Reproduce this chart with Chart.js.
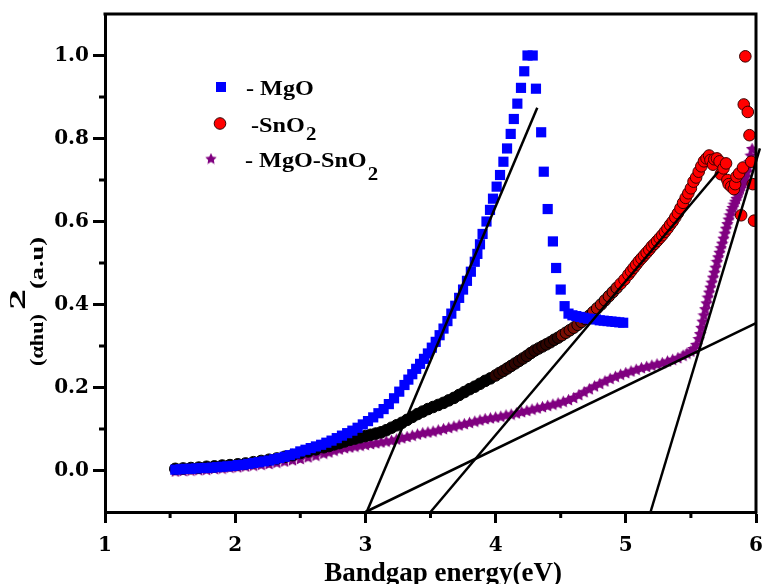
<!DOCTYPE html>
<html>
<head>
<meta charset="utf-8">
<script src="https://cdn.jsdelivr.net/npm/chart.js@4.4.1/dist/chart.umd.min.js"></script>
<style>
  html, body { margin: 0; padding: 0; background: #ffffff; }
  #plot { display: block; }
</style>
</head>
<body>
<canvas id="plot" width="764" height="584"></canvas>
<script>
// ---- MgO: (alpha h nu)^2 against photon energy (eV) ----
const mgoEnergy = [1.54,1.58,1.62,1.66,1.70,1.74,1.78,1.82,1.86,1.90,1.94,1.98,2.02,2.06,2.10,2.14,2.18,2.22,2.26,2.30,
  2.34,2.38,2.42,2.46,2.50,2.54,2.58,2.62,2.66,2.70,2.74,2.78,2.82,2.86,2.90,2.94,2.98,3.02,3.06,3.10,
  3.14,3.18,3.22,3.26,3.30,3.33,3.36,3.39,3.42,3.45,3.48,3.51,3.54,3.57,3.60,3.63,3.66,3.69,3.72,3.75,
  3.78,3.81,3.84,3.86,3.88,3.90,3.93,3.957,3.98,4.008,4.034,4.06,4.088,4.116,4.14,4.167,4.195,4.22,4.245,4.285,
  4.31,4.35,4.37,4.40,4.44,4.465,4.50,4.53,4.56,4.59,4.62,4.65,4.68,4.71,4.74,4.77,4.80,4.83,4.86,4.89,
  4.92,4.95,4.98];
const mgoValue = [0.002,0.003,0.004,0.004,0.005,0.006,0.006,0.007,0.008,0.009,0.010,0.011,0.013,0.014,0.016,0.018,0.020,0.022,0.024,0.027,
  0.030,0.033,0.037,0.041,0.046,0.050,0.054,0.058,0.062,0.067,0.072,0.078,0.084,0.090,0.096,0.103,0.111,0.119,0.128,0.138,
  0.148,0.160,0.174,0.190,0.206,0.219,0.232,0.245,0.257,0.269,0.282,0.296,0.310,0.326,0.342,0.360,0.378,0.397,0.416,0.436,
  0.457,0.479,0.503,0.522,0.545,0.570,0.600,0.628,0.655,0.684,0.712,0.744,0.776,0.811,0.847,0.884,0.922,0.962,1.000,1.000,
  0.920,0.815,0.720,0.630,0.552,0.488,0.436,0.396,0.378,0.374,0.372,0.370,0.368,0.366,0.365,0.364,0.362,0.361,0.360,0.359,
  0.358,0.357,0.356];

// ---- SnO2 ----
const sno2Energy = [1.54,1.60,1.66,1.72,1.78,1.84,1.90,1.96,2.02,2.08,2.14,2.20,2.26,2.32,2.38,2.44,2.50,2.56,2.62,2.68,
  2.72,2.76,2.80,2.84,2.88,2.92,2.96,3.00,3.04,3.08,3.12,3.16,3.20,3.24,3.28,3.32,3.36,3.40,3.44,3.48,
  3.52,3.56,3.60,3.64,3.68,3.72,3.76,3.80,3.84,3.88,3.92,3.96,4.00,4.03,4.06,4.09,4.12,4.15,4.18,4.21,
  4.24,4.27,4.30,4.33,4.36,4.39,4.42,4.45,4.48,4.51,4.54,4.57,4.60,4.63,4.66,4.69,4.72,4.75,4.78,4.81,
  4.84,4.87,4.90,4.93,4.96,4.99,5.02,5.04,5.06,5.08,5.10,5.12,5.14,5.16,5.18,5.20,5.22,5.24,5.26,5.28,
  5.30,5.32,5.34,5.36,5.38,5.40,5.42,5.44,5.46,5.48,5.50,5.52,5.54,5.56,5.58,5.60,5.62,5.64,5.65,5.67,
  5.68,5.70,5.72,5.73,5.75,5.77,5.78,5.79,5.81,5.83,5.84,5.85,5.87,5.886,5.90,5.906,5.918,5.937,5.95,5.963,
  5.975,5.985];
const sno2Value = [0.004,0.005,0.006,0.007,0.009,0.010,0.012,0.013,0.015,0.017,0.020,0.023,0.026,0.029,0.033,0.037,0.042,0.046,0.051,0.056,
  0.059,0.063,0.066,0.070,0.074,0.077,0.080,0.083,0.086,0.089,0.092,0.097,0.103,0.109,0.115,0.122,0.129,0.136,0.142,0.148,
  0.153,0.158,0.163,0.169,0.175,0.182,0.189,0.196,0.202,0.209,0.216,0.222,0.229,0.235,0.240,0.246,0.252,0.258,0.264,0.270,
  0.276,0.283,0.289,0.294,0.299,0.304,0.309,0.315,0.320,0.326,0.332,0.338,0.344,0.351,0.358,0.365,0.373,0.382,0.391,0.400,
  0.410,0.420,0.430,0.440,0.450,0.460,0.472,0.480,0.488,0.496,0.504,0.511,0.518,0.525,0.532,0.540,0.546,0.553,0.560,0.567,
  0.575,0.583,0.592,0.600,0.610,0.620,0.632,0.645,0.657,0.668,0.680,0.696,0.706,0.720,0.733,0.745,0.752,0.759,0.748,0.737,
  0.750,0.752,0.745,0.714,0.728,0.740,0.700,0.690,0.684,0.678,0.690,0.708,0.716,0.615,0.730,0.882,0.998,0.864,0.808,0.744,
  0.690,0.602];

// ---- MgO-SnO2 composite ----
const compEnergy = [1.54,1.60,1.66,1.72,1.78,1.84,1.90,1.96,2.02,2.08,2.14,2.20,2.26,2.32,2.38,2.44,2.50,2.56,2.62,2.68,
  2.72,2.76,2.80,2.84,2.88,2.92,2.96,3.00,3.04,3.08,3.12,3.16,3.20,3.24,3.28,3.32,3.36,3.40,3.44,3.48,
  3.52,3.56,3.60,3.64,3.68,3.72,3.76,3.80,3.84,3.88,3.92,3.96,4.00,4.04,4.08,4.12,4.16,4.20,4.24,4.28,
  4.32,4.36,4.40,4.44,4.48,4.52,4.56,4.60,4.64,4.68,4.72,4.76,4.80,4.84,4.88,4.92,4.96,5.00,5.04,5.08,
  5.12,5.16,5.20,5.24,5.28,5.32,5.36,5.40,5.44,5.47,5.50,5.52,5.54,5.56,5.57,5.58,5.59,5.60,5.61,5.62,
  5.63,5.64,5.65,5.66,5.67,5.68,5.69,5.70,5.71,5.72,5.73,5.74,5.75,5.76,5.77,5.78,5.79,5.80,5.81,5.82,
  5.83,5.84,5.85,5.86,5.87,5.88,5.89,5.90,5.91,5.92,5.93,5.94,5.95,5.96,5.97];
const compValue = [-0.001,0.000,0.001,0.002,0.003,0.005,0.006,0.008,0.009,0.011,0.013,0.015,0.017,0.020,0.023,0.026,0.029,0.033,0.037,0.042,
  0.045,0.049,0.052,0.055,0.057,0.059,0.061,0.063,0.065,0.067,0.069,0.071,0.073,0.076,0.079,0.082,0.085,0.088,0.091,0.093,
  0.095,0.098,0.101,0.104,0.107,0.110,0.113,0.116,0.119,0.122,0.125,0.127,0.129,0.131,0.134,0.136,0.139,0.142,0.145,0.148,
  0.151,0.154,0.157,0.160,0.163,0.167,0.171,0.176,0.183,0.190,0.197,0.204,0.210,0.216,0.222,0.227,0.232,0.236,0.240,0.244,
  0.248,0.251,0.254,0.257,0.260,0.264,0.268,0.272,0.278,0.283,0.288,0.294,0.304,0.318,0.330,0.345,0.360,0.375,0.390,0.404,
  0.418,0.430,0.442,0.454,0.466,0.478,0.490,0.504,0.515,0.526,0.537,0.548,0.560,0.572,0.584,0.595,0.606,0.616,0.626,0.634,
  0.642,0.649,0.656,0.664,0.672,0.680,0.688,0.694,0.700,0.708,0.720,0.733,0.745,0.760,0.776];

// ---- Tauc extrapolation lines (start, end) ----
const fitMgO      = [[3.01, -0.1], [4.32, 0.874]];
const fitBaseline = [[3.00, -0.1], [6.00, 0.355]];
const fitSnO2     = [[3.50, -0.1], [5.71, 0.720]];
const fitComp     = [[5.19, -0.1], [6.03, 0.776]];

// ---- axes ----
const xTicks = [1, 2, 3, 4, 5, 6];
const yTicks = [0.0, 0.2, 0.4, 0.6, 0.8, 1.0];
const xMinorTicks = [1.5, 2.5, 3.5, 4.5, 5.5];
const yMinorTicks = [0.1, 0.3, 0.5, 0.7, 0.9];
const xTitle = 'Bandgap energy(eV)';
const yTitleParts = ['(\u03B1hu)', '2', '(a.u)'];

// ---- legend ----
const legendText = ['- MgO', '-SnO', '- MgO-SnO'];
const legendSub  = ['', '2', '2'];

const toPoints = (xs, ys) => xs.map((x, i) => ({ x: x, y: ys[i] }));
const toLine = pts => pts.map(p => ({ x: p[0], y: p[1] }));

const SERIF = '"Liberation Serif", "Times New Roman", serif';
const PURPLE = '#800080';

// filled five-point star used as a marker
function starMarker(size, color) {
  const c = document.createElement('canvas');
  c.width = size; c.height = size;
  const g = c.getContext('2d');
  const cx = size / 2, cy = size / 2 + size * 0.05, R = size / 2, r = R * 0.5;
  g.beginPath();
  for (let i = 0; i < 10; i++) {
    const a = -Math.PI / 2 + i * Math.PI / 5;
    const rad = (i % 2) ? r : R;
    g.lineTo(cx + rad * Math.cos(a), cy + rad * Math.sin(a));
  }
  g.closePath();
  g.fillStyle = color;
  g.fill();
  return c;
}
const starPoint = starMarker(13, PURPLE);
const starLegend = starMarker(12, PURPLE);

// overlapping circle outlines make the dense part of the SnO2 trace look dark
function sno2Fill(ctx) {
  const x = ctx.raw ? ctx.raw.x : 6;
  if (x < 4.0) return '#000000';
  if (x < 4.5) return '#2e0400';
  if (x < 4.75) return '#7a0e04';
  if (x < 4.95) return '#b81008';
  return '#ff0000';
}
function sno2Edge(ctx) {
  const x = ctx.raw ? ctx.raw.x : 6;
  return x < 4.95 ? '#000000' : '#3a0000';
}

const lineStyle = {
  type: 'line',
  showLine: true,
  borderColor: '#000000',
  borderWidth: 2.5,
  pointRadius: 0,
  fill: false,
  clip: false,
  order: 0
};

// frame, minor ticks, titles and legend
const decorations = {
  id: 'decorations',
  afterDraw(chart) {
    const ctx = chart.ctx;
    const a = chart.chartArea;
    const xs = chart.scales.x, ys = chart.scales.y;
    ctx.save();
    ctx.strokeStyle = '#000';
    ctx.lineWidth = 3;
    ctx.lineCap = 'square';
    ctx.beginPath();
    ctx.moveTo(a.left, a.top);
    ctx.lineTo(a.right, a.top);
    ctx.lineTo(a.right, a.bottom);
    ctx.stroke();

    ctx.lineCap = 'butt';
    ctx.lineWidth = 3;
    ctx.beginPath();
    xMinorTicks.forEach(v => {
      const px = xs.getPixelForValue(v);
      ctx.moveTo(px, a.bottom);
      ctx.lineTo(px, a.bottom + 6);
    });
    yMinorTicks.forEach(v => {
      const py = ys.getPixelForValue(v);
      ctx.moveTo(a.left, py);
      ctx.lineTo(a.left - 6, py);
    });
    ctx.stroke();

    // x title
    ctx.fillStyle = '#000';
    ctx.font = 'bold 27px ' + SERIF;
    ctx.textAlign = 'center';
    ctx.textBaseline = 'alphabetic';
    ctx.fillText(xTitle, 443, 581);

    // y title, read bottom to top
    const along = (text, size, from, to, base) => {
      ctx.save();
      ctx.font = 'bold ' + size + 'px ' + SERIF;
      const w = ctx.measureText(text).width;
      ctx.translate(base, from);
      ctx.rotate(-Math.PI / 2);
      ctx.scale((from - to) / w, 1);
      ctx.textAlign = 'left';
      ctx.textBaseline = 'alphabetic';
      ctx.fillText(text, 0, 0);
      ctx.restore();
    };
    along(yTitleParts[0], 19, 366, 314, 43);
    along(yTitleParts[1], 24, 310, 289, 25);
    along(yTitleParts[2], 19, 289, 237, 43);

    // legend
    const rows = [87, 123.5, 158.5];
    const textX = [246, 251, 245];
    const baseY = [95, 131.5, 166.5];
    const subY = [0, 140, 180];
    ctx.fillStyle = '#0000ff';
    ctx.fillRect(216, rows[0] - 5, 10, 10);
    ctx.beginPath();
    ctx.arc(220, rows[1], 5.8, 0, Math.PI * 2);
    ctx.fillStyle = '#ff0000';
    ctx.fill();
    ctx.lineWidth = 1;
    ctx.strokeStyle = '#300000';
    ctx.stroke();
    ctx.drawImage(starLegend, 211 - 6, rows[2] - 6);
    ctx.fillStyle = '#000';
    ctx.textAlign = 'left';
    for (let i = 0; i < legendText.length; i++) {
      ctx.save();
      ctx.translate(textX[i], baseY[i]);
      ctx.scale(1.1, 1);
      ctx.font = 'bold 22px ' + SERIF;
      ctx.fillText(legendText[i], 0, 0);
      const w = ctx.measureText(legendText[i]).width;
      if (legendSub[i]) {
        ctx.font = 'bold 19px ' + SERIF;
        ctx.fillText(legendSub[i], w + 1, subY[i] - baseY[i]);
      }
      ctx.restore();
    }
    ctx.restore();
  }
};

new Chart(document.getElementById('plot'), {
  type: 'scatter',
  data: {
    datasets: [
      Object.assign({ label: 'fit MgO', data: toLine(fitMgO) }, lineStyle),
      Object.assign({ label: 'fit baseline', data: toLine(fitBaseline) }, lineStyle),
      Object.assign({ label: 'fit SnO2', data: toLine(fitSnO2) }, lineStyle),
      Object.assign({ label: 'fit MgO-SnO2', data: toLine(fitComp) }, lineStyle),
      {
        label: 'MgO',
        data: toPoints(mgoEnergy, mgoValue),
        pointStyle: 'rect',
        pointRadius: 7.2,
        pointBackgroundColor: '#0000ff',
        pointBorderColor: '#0000ff',
        pointBorderWidth: 0,
        showLine: false,
        clip: 0,
        order: 1
      },
      {
        label: 'SnO2',
        data: toPoints(sno2Energy, sno2Value),
        pointStyle: 'circle',
        pointRadius: 5.8,
        pointBackgroundColor: sno2Fill,
        pointBorderColor: sno2Edge,
        pointBorderWidth: 1,
        showLine: false,
        clip: 0,
        order: 2
      },
      {
        label: 'MgO-SnO2',
        data: toPoints(compEnergy, compValue),
        pointStyle: starPoint,
        pointRadius: 6,
        showLine: false,
        clip: 0,
        order: 3
      }
    ]
  },
  options: {
    responsive: false,
    animation: false,
    devicePixelRatio: 1,
    events: [],
    layout: { autoPadding: false, padding: { left: 0, right: 8, top: 14, bottom: 0 } },
    plugins: { legend: { display: false }, tooltip: { enabled: false } },
    scales: {
      x: {
        type: 'linear',
        min: 1, max: 6,
        afterBuildTicks: s => { s.ticks = xTicks.map(v => ({ value: v })); },
        afterFit: s => { s.height = 72; s.paddingLeft = 0; s.paddingRight = 0; },
        grid: { drawOnChartArea: false, drawTicks: true, tickLength: 11, tickWidth: 3, tickColor: '#000' },
        border: { display: true, width: 3, color: '#000' },
        ticks: {
          color: '#000',
          padding: 11,
          maxRotation: 0,
          font: { family: '"DejaVu Serif", serif', weight: 'bold', size: 20 },
          callback: v => String(v)
        }
      },
      y: {
        type: 'linear',
        min: -0.1, max: 1.1,
        afterBuildTicks: s => { s.ticks = yTicks.map(v => ({ value: v })); },
        afterFit: s => { s.width = 105; s.paddingTop = 0; s.paddingBottom = 0; },
        grid: { drawOnChartArea: false, drawTicks: true, tickLength: 12, tickWidth: 3, tickColor: '#000' },
        border: { display: true, width: 3, color: '#000' },
        ticks: {
          color: '#000',
          padding: 4,
          font: { family: '"DejaVu Serif", serif', weight: 'bold', size: 20 },
          callback: v => Number(v).toFixed(1)
        }
      }
    }
  },
  plugins: [decorations]
});
</script>
</body>
</html>
